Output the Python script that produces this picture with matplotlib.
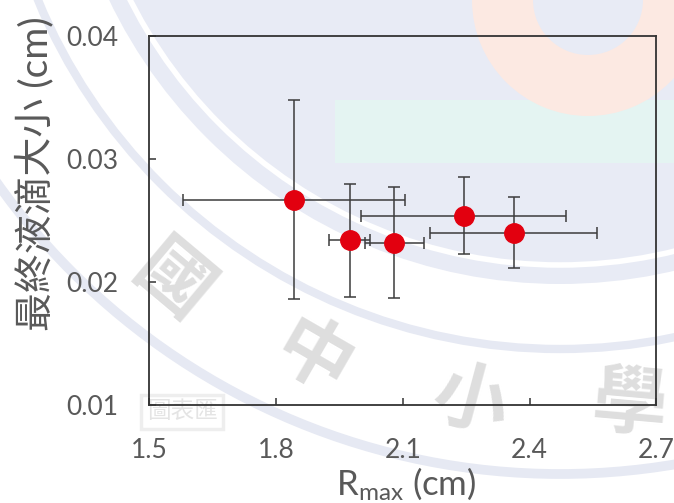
import numpy as np
import matplotlib
matplotlib.use("Agg")
import matplotlib.pyplot as plt
from matplotlib.patches import Circle, Wedge, Rectangle

# data
rmax = [1.843, 1.974, 2.080, 2.244, 2.362]
rmax_err = [0.263, 0.048, 0.070, 0.243, 0.198]
drop = [0.0267, 0.0234, 0.0232, 0.0254, 0.0240]
drop_err = [0.0081, 0.0046, 0.0045, 0.0031, 0.0029]

xticks = [1.5, 1.8, 2.1, 2.4, 2.7]
yticks = [0.01, 0.02, 0.03, 0.04]
xtick_labels = ['1.5', '1.8', '2.1', '2.4', '2.7']
ytick_labels = ['0.01', '0.02', '0.03', '0.04']

ylabel = '最終液滴大小 (cm)'
xlabel = r'R$_{\mathrm{max}}$ (cm)'
wm_chars = ['國', '中', '小', '學']

plt.rcParams['font.family'] = ['Lato', 'Noto Sans CJK TC', 'DejaVu Sans']
plt.rcParams['mathtext.fontset'] = 'custom'
plt.rcParams['mathtext.rm'] = 'Lato'
plt.rcParams['mathtext.default'] = 'regular'

W, H = 674, 503
fig = plt.figure(figsize=(W/100, H/100), dpi=100)

# background watermark (rough)
bg = fig.add_axes([0, 0, 1, 1], zorder=0)
bg.set_xlim(0, W)
bg.set_ylim(H, 0)
bg.axis('off')
cx, cy = 560, -216
bg.add_patch(Circle((cx, cy), 500, color='#e8ebf5', lw=0))
bg.add_patch(Circle((cx, cy), 481, fill=False, ec='white', lw=4))
bg.add_patch(Circle((cx, cy), 565, fill=False, ec='#e6e9f3', lw=6))
bg.add_patch(Circle((cx, cy), 690, fill=False, ec='#e6e9f3', lw=7))
bg.add_patch(Rectangle((335, 100), 339, 63, color='#e4f4f2', lw=0))
bg.add_patch(Wedge((588, 0), 116, 0, 360, width=61, color='#fce9e2', lw=0))
wm_pos = [(172, 283), (312, 360), (470, 402), (630, 405)]
wm_rot = [-40, -30, -15, -5]
for ch, (px, py), ang in zip(wm_chars, wm_pos, wm_rot):
    bg.text(px, py, ch, fontsize=54, fontweight='bold', color='#dedede',
            ha='center', va='center', rotation=ang,
            family=['Noto Sans CJK TC'])
bg.text(182, 412, '圖表匯', fontsize=17, color='#e4e4e4', ha='center',
        va='center', family=['Noto Sans CJK TC'],
        bbox=dict(fc='none', ec='#eeeeee', lw=2.5, pad=4))

# main axes
ax = fig.add_axes([149.3/W, 1-405/H, (656.5-149.3)/W, (405-36)/H], zorder=1)
ax.set_facecolor('none')
ax.errorbar(rmax, drop, xerr=rmax_err, yerr=drop_err, fmt='o', ms=14,
            mfc='#e2000f', mec='#e2000f', ecolor='#3c3c3c',
            elinewidth=1.1, capsize=4, capthick=1.1, zorder=3)

ax.set_xlim(1.5, 2.7)
ax.set_ylim(0.01, 0.04)
ax.set_xticks(xticks)
ax.set_xticklabels(xtick_labels)
ax.set_yticks(yticks)
ax.set_yticklabels(ytick_labels)
for s in ax.spines.values():
    s.set_color('#333333')
    s.set_linewidth(1.3)
ax.tick_params(direction='in', length=5, width=1.1, color='#333333',
               labelcolor='#595959', labelsize=19)
ax.tick_params(axis='x', pad=24)
ax.tick_params(axis='y', pad=22)

fig.text(35/W, 1-174/H, ylabel, rotation=90, ha='center', va='center',
         fontsize=28, color='#595959')
fig.text(406/W, 1-495/H, xlabel, ha='center', va='baseline',
         fontsize=25, color='#595959')

fig.savefig('out.png', dpi=100)
